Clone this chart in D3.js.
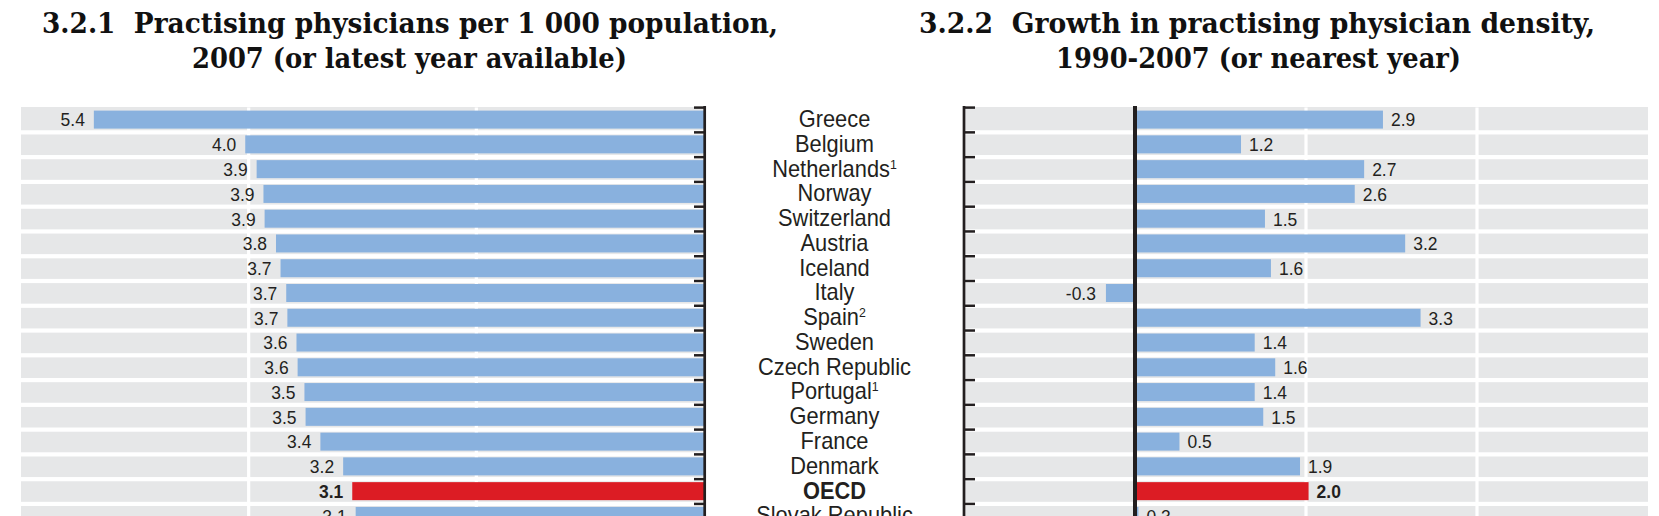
<!DOCTYPE html>
<html>
<head>
<meta charset="utf-8">
<script src="https://cdn.jsdelivr.net/npm/d3@7"></script>
<style>
  html, body { margin: 0; padding: 0; background: #ffffff; }
  svg { display: block; }
</style>
</head>
<body>
<div id="chart"></div>
<script>
// ---------- data ----------
const countries = ["Greece", "Belgium", "Netherlands", "Norway", "Switzerland", "Austria", "Iceland", "Italy", "Spain", "Sweden", "Czech Republic", "Portugal", "Germany", "France", "Denmark", "OECD", "Slovak Republic"];
const footnotes = ["", "", "1", "", "", "", "", "", "2", "", "", "1", "", "", "", "", ""];
const density = [5.36, 4.03, 3.93, 3.87, 3.86, 3.76, 3.72, 3.67, 3.66, 3.58, 3.57, 3.51, 3.50, 3.37, 3.17, 3.09, 3.06];
const densityLabels = ["5.4", "4.0", "3.9", "3.9", "3.9", "3.8", "3.7", "3.7", "3.7", "3.6", "3.6", "3.5", "3.5", "3.4", "3.2", "3.1", "3.1"];
const growth = [2.90, 1.24, 2.68, 2.57, 1.52, 3.16, 1.59, -0.34, 3.34, 1.40, 1.64, 1.40, 1.50, 0.52, 1.93, 2.03, 0.04];
const growthLabels = ["2.9", "1.2", "2.7", "2.6", "1.5", "3.2", "1.6", "-0.3", "3.3", "1.4", "1.6", "1.4", "1.5", "0.5", "1.9", "2.0", "0.3"];
const leftDomain = [0, 6];
const rightDomain = [-2, 6];
const leftGrid = [2, 4];
const rightGrid = [2, 4];
const titleLeft = ["3.2.1\u00a0\u00a0Practising physicians per 1 000 population,", "2007 (or latest year available)"];
const titleRight = ["3.2.2\u00a0\u00a0Growth in practising physician density,", "1990-2007 (or nearest year)"];
const highlight = "OECD";

// ---------- layout ----------
const W = 1659, H = 516;
const BLUE = "#89b1de", RED = "#dc1c24", GRAY = "#e6e7e8", INK = "#231f20";
const plotTop = 107.6, step = 24.77;
const rows = countries.map((c, i) => ({ c, i, fn: footnotes[i], d: density[i], dl: densityLabels[i], g: growth[i], gl: growthLabels[i] }));

const svg = d3.select("#chart").append("svg").attr("width", W).attr("height", H);

const y = d3.scaleBand().domain(countries).range([plotTop, plotTop + step * countries.length]).padding(0);
const xL = d3.scaleLinear().domain(leftDomain).range([704, 21]);
const xR = d3.scaleLinear().domain(rightDomain).range([964, 1648]);

// ---------- titles ----------
const tfont = "'DejaVu Serif', serif";
function title(lines, spans) {
  lines.forEach((t, k) => {
    svg.append("text")
      .attr("x", spans[k][0]).attr("y", k === 0 ? 33.3 : 68.3)
      .attr("textLength", spans[k][1] - spans[k][0])
      .attr("lengthAdjust", "spacingAndGlyphs")
      .attr("font-family", tfont).attr("font-weight", "bold").attr("font-size", 27)
      .attr("fill", "#111").text(t);
  });
}
title(titleLeft, [[42, 778], [192, 627]]);
title(titleRight, [[919, 1595], [1056, 1461]]);

// ---------- panels ----------
function panel(x, valKey, labKey, side) {
  const g = svg.append("g");
  const [d0, d1] = x.domain();
  const xa = Math.min(x(d0), x(d1)), xb = Math.max(x(d0), x(d1));
  g.append("rect").attr("x", xa).attr("y", plotTop - 0.6).attr("width", xb - xa).attr("height", H - plotTop + 1).attr("fill", GRAY);
  g.selectAll("line.grid").data(side === "left" ? leftGrid : rightGrid).join("line")
    .attr("x1", d => x(d)).attr("x2", d => x(d))
    .attr("y1", plotTop).attr("y2", H).attr("stroke", "#fff").attr("stroke-width", 3.2);
  g.selectAll("rect.sep").data(countries.slice(1)).join("rect")
    .attr("x", xa).attr("width", xb - xa)
    .attr("y", d => y(d) - 2.1).attr("height", 4.2).attr("fill", "#fff");
  g.selectAll("rect.bar").data(rows).join("rect")
    .attr("x", d => Math.min(x(0), x(d[valKey])))
    .attr("width", d => Math.abs(x(d[valKey]) - x(0)))
    .attr("y", d => y(d.c) + 3).attr("height", 18)
    .attr("fill", d => d.c === highlight ? RED : BLUE);
  g.selectAll("text.val").data(rows).join("text")
    .attr("transform", d => {
      const v = d[valKey];
      let px;
      if (side === "left") px = x(v) - 9;
      else px = v >= 0 ? x(v) + 8 : x(v) - 10;
      return `translate(${px},${y(d.c) + step / 2 + 6.5}) scale(0.92,1)`;
    })
    .attr("text-anchor", d => (side === "left" || d[valKey] < 0) ? "end" : "start")
    .attr("font-family", "'Liberation Sans', Arial, sans-serif")
    .attr("font-size", 19)
    .attr("font-weight", d => d.c === highlight ? "bold" : "normal")
    .attr("fill", INK)
    .text(d => d[labKey]);
  return g;
}

panel(xL, "d", "dl", "left");
panel(xR, "g", "gl", "right");

// ---------- axes ----------
const bounds = d3.range(countries.length + 1).map(i => plotTop + i * step);
svg.append("line").attr("x1", 704.7).attr("x2", 704.7).attr("y1", 106).attr("y2", H)
  .attr("stroke", INK).attr("stroke-width", 2.7);
svg.selectAll("line.tl").data(bounds).join("line")
  .attr("x1", 694).attr("x2", 704).attr("y1", d => d).attr("y2", d => d)
  .attr("stroke", INK).attr("stroke-width", 2.5);
svg.append("line").attr("x1", 964).attr("x2", 964).attr("y1", 106).attr("y2", H)
  .attr("stroke", INK).attr("stroke-width", 2.7);
svg.selectAll("line.tr").data(bounds).join("line")
  .attr("x1", 964).attr("x2", 975).attr("y1", d => d).attr("y2", d => d)
  .attr("stroke", INK).attr("stroke-width", 2.5);
svg.append("line").attr("x1", xR(0)).attr("x2", xR(0)).attr("y1", 106).attr("y2", H)
  .attr("stroke", INK).attr("stroke-width", 4);

// ---------- country labels ----------
const lab = svg.selectAll("text.country").data(rows).join("text")
  .attr("transform", d => `translate(834.5,${y(d.c) + step / 2 + 7}) scale(0.95,1)`)
  .attr("text-anchor", "middle")
  .attr("font-family", "'Liberation Sans', Arial, sans-serif")
  .attr("font-size", 23)
  .attr("font-weight", d => d.c === highlight ? "bold" : "normal")
  .attr("fill", INK);
lab.append("tspan").text(d => d.c);
lab.filter(d => d.fn).append("tspan")
  .attr("font-size", 13).attr("dy", -8).text(d => d.fn);
</script>
</body>
</html>
